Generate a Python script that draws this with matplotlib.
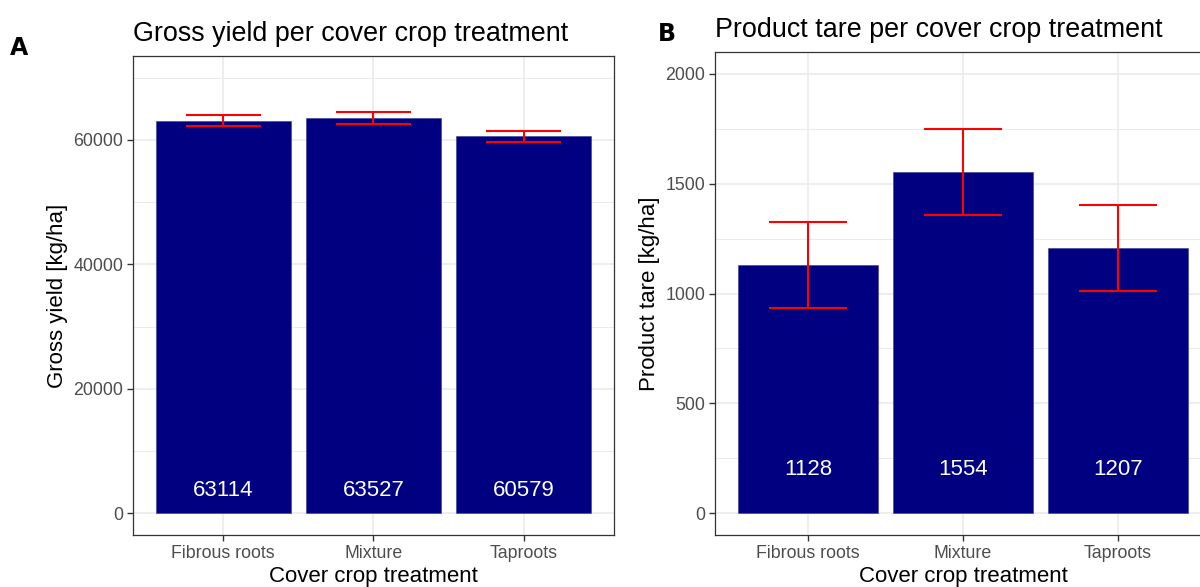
import numpy as np
import matplotlib
matplotlib.use("Agg")
import matplotlib.pyplot as plt

plt.rcParams['font.family'] = ['Liberation Sans', 'DejaVu Sans']

# data
treatments = ['Fibrous roots', 'Mixture', 'Taproots']
gross_yield = [63114, 63527, 60579]
gross_se = [900, 900, 900]
tare = [1128, 1554, 1207]
tare_se = [196, 196, 196]

bar_col = '#000080'
err_col = 'red'
grid_col = '#EBEBEB'


def panel(ax, vals, errs, ymax, major, minor, label_y, title, ylabel):
    x = np.arange(1, len(treatments) + 1)
    ax.set_axisbelow(True)
    ax.bar(x, vals, width=0.9, color=bar_col, edgecolor='#3a3a9a', linewidth=0.4, zorder=2)
    lo = np.array(vals) - np.array(errs)
    hi = np.array(vals) + np.array(errs)
    ax.vlines(x, lo, hi, color=err_col, linewidth=1.5, zorder=3)
    ax.hlines(lo, x - 0.25, x + 0.25, color=err_col, linewidth=1.5, zorder=3)
    ax.hlines(hi, x - 0.25, x + 0.25, color=err_col, linewidth=1.5, zorder=3)
    for xi, v in zip(x, vals):
        ax.text(xi, label_y, str(v), ha='center', va='center', color='white', fontsize=16, zorder=4)

    ax.set_xlim(0.4, len(treatments) + 0.6)
    ax.set_ylim(-0.05 * ymax, 1.05 * ymax)
    ax.set_xticks(x)
    ax.set_xticklabels(treatments)
    ax.set_yticks(major)
    ax.set_yticks(minor, minor=True)
    ax.set_xticks(x[:-1] + 0.5, minor=True)
    ax.grid(True, which='major', color=grid_col, linewidth=1.2)
    ax.grid(True, which='minor', axis='y', color=grid_col, linewidth=0.7)
    ax.tick_params(which='minor', length=0)
    ax.tick_params(which='major', length=4, width=1.0, color='#333333',
                   labelsize=12.8, labelcolor='#4d4d4d', pad=3)
    for s in ax.spines.values():
        s.set_color('#333333')
        s.set_linewidth(0.9)
    ax.set_title(title, loc='left', fontsize=19.4, pad=10.5)
    ax.set_xlabel('Cover crop treatment', fontsize=16, labelpad=3)
    ax.set_ylabel(ylabel, fontsize=16, labelpad=4)


fig = plt.figure(figsize=(12, 5.87), dpi=100)
axA = fig.add_axes([0.1108, 0.0886, 0.4008, 0.816])
axB = fig.add_axes([0.5958, 0.0886, 0.4133, 0.8228])

panel(axA, gross_yield, gross_se, 70000,
      [0, 20000, 40000, 60000], [10000, 30000, 50000, 70000], 3700,
      'Gross yield per cover crop treatment', 'Gross yield [kg/ha]')
panel(axB, tare, tare_se, 2000,
      [0, 500, 1000, 1500, 2000], [250, 750, 1250, 1750], 200,
      'Product tare per cover crop treatment', 'Product tare [kg/ha]')

fig.text(0.008, 0.918, 'A', fontsize=17, fontweight='bold', family='DejaVu Sans', va='center')
fig.text(0.548, 0.942, 'B', fontsize=17, fontweight='bold', family='DejaVu Sans', va='center')

fig.savefig('out.png', dpi=100)
